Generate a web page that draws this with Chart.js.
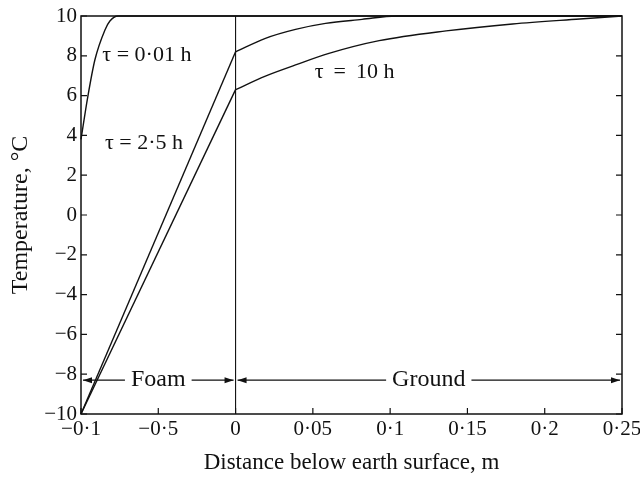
<!DOCTYPE html>
<html>
<head>
<meta charset="utf-8">
<script src="https://cdn.jsdelivr.net/npm/chart.js@4.4.1/dist/chart.umd.min.js"></script>
<style>
  body { margin: 0; background: #fff; }
  canvas { display: block; }
</style>
</head>
<body>
<canvas id="tempChart" width="640" height="485"></canvas>
<script>
// Datos
const xTickLabels = ['\u22120\u00b71', '\u22120\u00b75', '0', '0\u00b705', '0\u00b71', '0\u00b715', '0\u00b72', '0\u00b725'];
const yTickLabels = ['\u221210', '\u22128', '\u22126', '\u22124', '\u22122', '0', '2', '4', '6', '8', '10'];

// tau = 0.01 h (solo en la espuma)
const tau001X = [-0.1, -0.0957, -0.091, -0.0845, -0.0813, -0.076, 0.25];
const tau001T = [3.8, 5.9, 7.8, 9.3, 9.75, 10, 10];

// tramo recto en la espuma
const foamX = [-0.1, 0];
const tau25Foam = [-10, 8.2];
const tau10Foam = [-10, 6.3];

// tramo en el suelo
const tau25GroundX = [0, 0.0193, 0.0388, 0.0582, 0.0818, 0.1037, 0.25];
const tau25Ground = [8.2, 8.88, 9.33, 9.63, 9.83, 10, 10];
const tau10GroundX = [0, 0.0193, 0.0388, 0.0604, 0.0929, 0.1362, 0.1792, 0.2227, 0.25];
const tau10Ground = [6.3, 6.98, 7.54, 8.12, 8.76, 9.25, 9.6, 9.85, 10];

const toPoints = (xs, ys) => xs.map((x, i) => ({ x: x, y: ys[i] }));

const serif = '"Liberation Serif", "DejaVu Serif", serif';

const lineStyle = {
    borderColor: '#111',
    borderWidth: 1.4,
    pointRadius: 0,
    fill: false,
    clip: 4
};

// Marco, linea x = 0, marcas hacia dentro y textos
const decorPlugin = {
    id: 'decor',
    afterDatasetsDraw(chart) {
        const ctx = chart.ctx;
        const a = chart.chartArea;
        const xs = chart.scales.x;
        const ys = chart.scales.y;
        ctx.save();
        ctx.strokeStyle = '#111';
        ctx.fillStyle = '#111';

        // marco
        ctx.lineWidth = 1.5;
        ctx.strokeRect(a.left, a.top, a.right - a.left, a.bottom - a.top);

        // separacion espuma / suelo
        ctx.lineWidth = 1.1;
        const x0 = xs.getPixelForValue(0);
        ctx.beginPath();
        ctx.moveTo(x0, a.top);
        ctx.lineTo(x0, a.bottom);
        ctx.stroke();

        // marcas hacia dentro
        ctx.lineWidth = 1.2;
        ys.ticks.forEach(t => {
            const py = ys.getPixelForValue(t.value);
            ctx.beginPath();
            ctx.moveTo(a.left, py); ctx.lineTo(a.left + 6, py);
            ctx.moveTo(a.right, py); ctx.lineTo(a.right - 6, py);
            ctx.stroke();
        });
        xs.ticks.forEach(t => {
            const px = xs.getPixelForValue(t.value);
            ctx.beginPath();
            ctx.moveTo(px, a.bottom); ctx.lineTo(px, a.bottom - 6);
            ctx.stroke();
        });

        // etiquetas de curvas
        ctx.font = '22px ' + serif;
        ctx.textBaseline = 'middle';
        ctx.textAlign = 'left';
        ctx.fillText('\u03c4 = 0\u00b701 h', xs.getPixelForValue(-0.0862), ys.getPixelForValue(8.05));
        ctx.fillText('\u03c4 = 2\u00b75 h', xs.getPixelForValue(-0.0845), ys.getPixelForValue(3.6));
        ctx.fillText('\u03c4 \u2009=\u2009 10 h', xs.getPixelForValue(0.0513), ys.getPixelForValue(7.2));

        // flechas Foam / Ground
        const arrows = [
            { from: -0.1, to: 0, label: 'Foam' },
            { from: 0, to: 0.25, label: 'Ground' }
        ];
        const py = ys.getPixelForValue(-8.3);
        ctx.font = '24px ' + serif;
        ctx.textAlign = 'center';
        ctx.lineWidth = 1.1;
        arrows.forEach(ar => {
            const p1 = xs.getPixelForValue(ar.from) + 2;
            const p2 = xs.getPixelForValue(ar.to) - 2;
            const mid = (p1 + p2) / 2;
            const half = ctx.measureText(ar.label).width / 2 + 6;
            ctx.fillText(ar.label, mid, py);
            ctx.beginPath();
            ctx.moveTo(p1, py); ctx.lineTo(mid - half, py);
            ctx.moveTo(mid + half, py); ctx.lineTo(p2, py);
            ctx.stroke();
            [[p1, 1], [p2, -1]].forEach(([p, d]) => {
                ctx.beginPath();
                ctx.moveTo(p, py);
                ctx.lineTo(p + d * 9, py - 3);
                ctx.lineTo(p + d * 9, py + 3);
                ctx.closePath();
                ctx.fill();
            });
        });
        ctx.restore();
    }
};

const tempConfig = {
    type: 'line',
    data: {
        datasets: [
            Object.assign({ label: 'tau 0.01 h', data: toPoints(tau001X, tau001T), cubicInterpolationMode: 'monotone' }, lineStyle),
            Object.assign({ label: 'tau 2.5 h foam', data: toPoints(foamX, tau25Foam) }, lineStyle),
            Object.assign({ label: 'tau 10 h foam', data: toPoints(foamX, tau10Foam) }, lineStyle),
            Object.assign({ label: 'tau 2.5 h ground', data: toPoints(tau25GroundX, tau25Ground), cubicInterpolationMode: 'monotone' }, lineStyle),
            Object.assign({ label: 'tau 10 h ground', data: toPoints(tau10GroundX, tau10Ground), cubicInterpolationMode: 'monotone' }, lineStyle)
        ]
    },
    options: {
        responsive: false,
        animation: false,
        layout: { padding: { left: 0, top: 16, right: 18, bottom: 0 } },
        scales: {
            x: {
                type: 'linear',
                min: -0.1,
                max: 0.25,
                afterFit(scale) {
                    scale.height = 71;
                    scale.paddingLeft = 0;
                    scale.paddingRight = 0;
                },
                grid: { display: false, drawTicks: false },
                border: { display: false },
                ticks: {
                    stepSize: 0.05,
                    padding: 3,
                    color: '#111',
                    font: { family: serif, size: 21 },
                    maxRotation: 0,
                    autoSkip: false,
                    callback: (v, i) => xTickLabels[i]
                },
                title: {
                    display: true,
                    text: 'Distance below earth surface, m',
                    color: '#111',
                    font: { family: serif, size: 23 },
                    padding: { top: 0, bottom: 8 }
                }
            },
            y: {
                min: -10,
                max: 10,
                afterFit(scale) {
                    scale.width = 81;
                    scale.paddingTop = 0;
                    scale.paddingBottom = 0;
                },
                grid: { display: false, drawTicks: false },
                border: { display: false },
                ticks: {
                    stepSize: 2,
                    padding: 4,
                    color: '#111',
                    font: { family: serif, size: 21 },
                    callback: (v, i) => yTickLabels[i]
                },
                title: {
                    display: true,
                    text: 'Temperature, \u00b0C',
                    color: '#111',
                    font: { family: serif, size: 24 },
                    padding: { top: 6, bottom: 0 }
                }
            }
        },
        plugins: {
            legend: { display: false },
            tooltip: { enabled: false }
        }
    },
    plugins: [decorPlugin]
};

const tempChart = new Chart(document.getElementById('tempChart'), tempConfig);
</script>
</body>
</html>
